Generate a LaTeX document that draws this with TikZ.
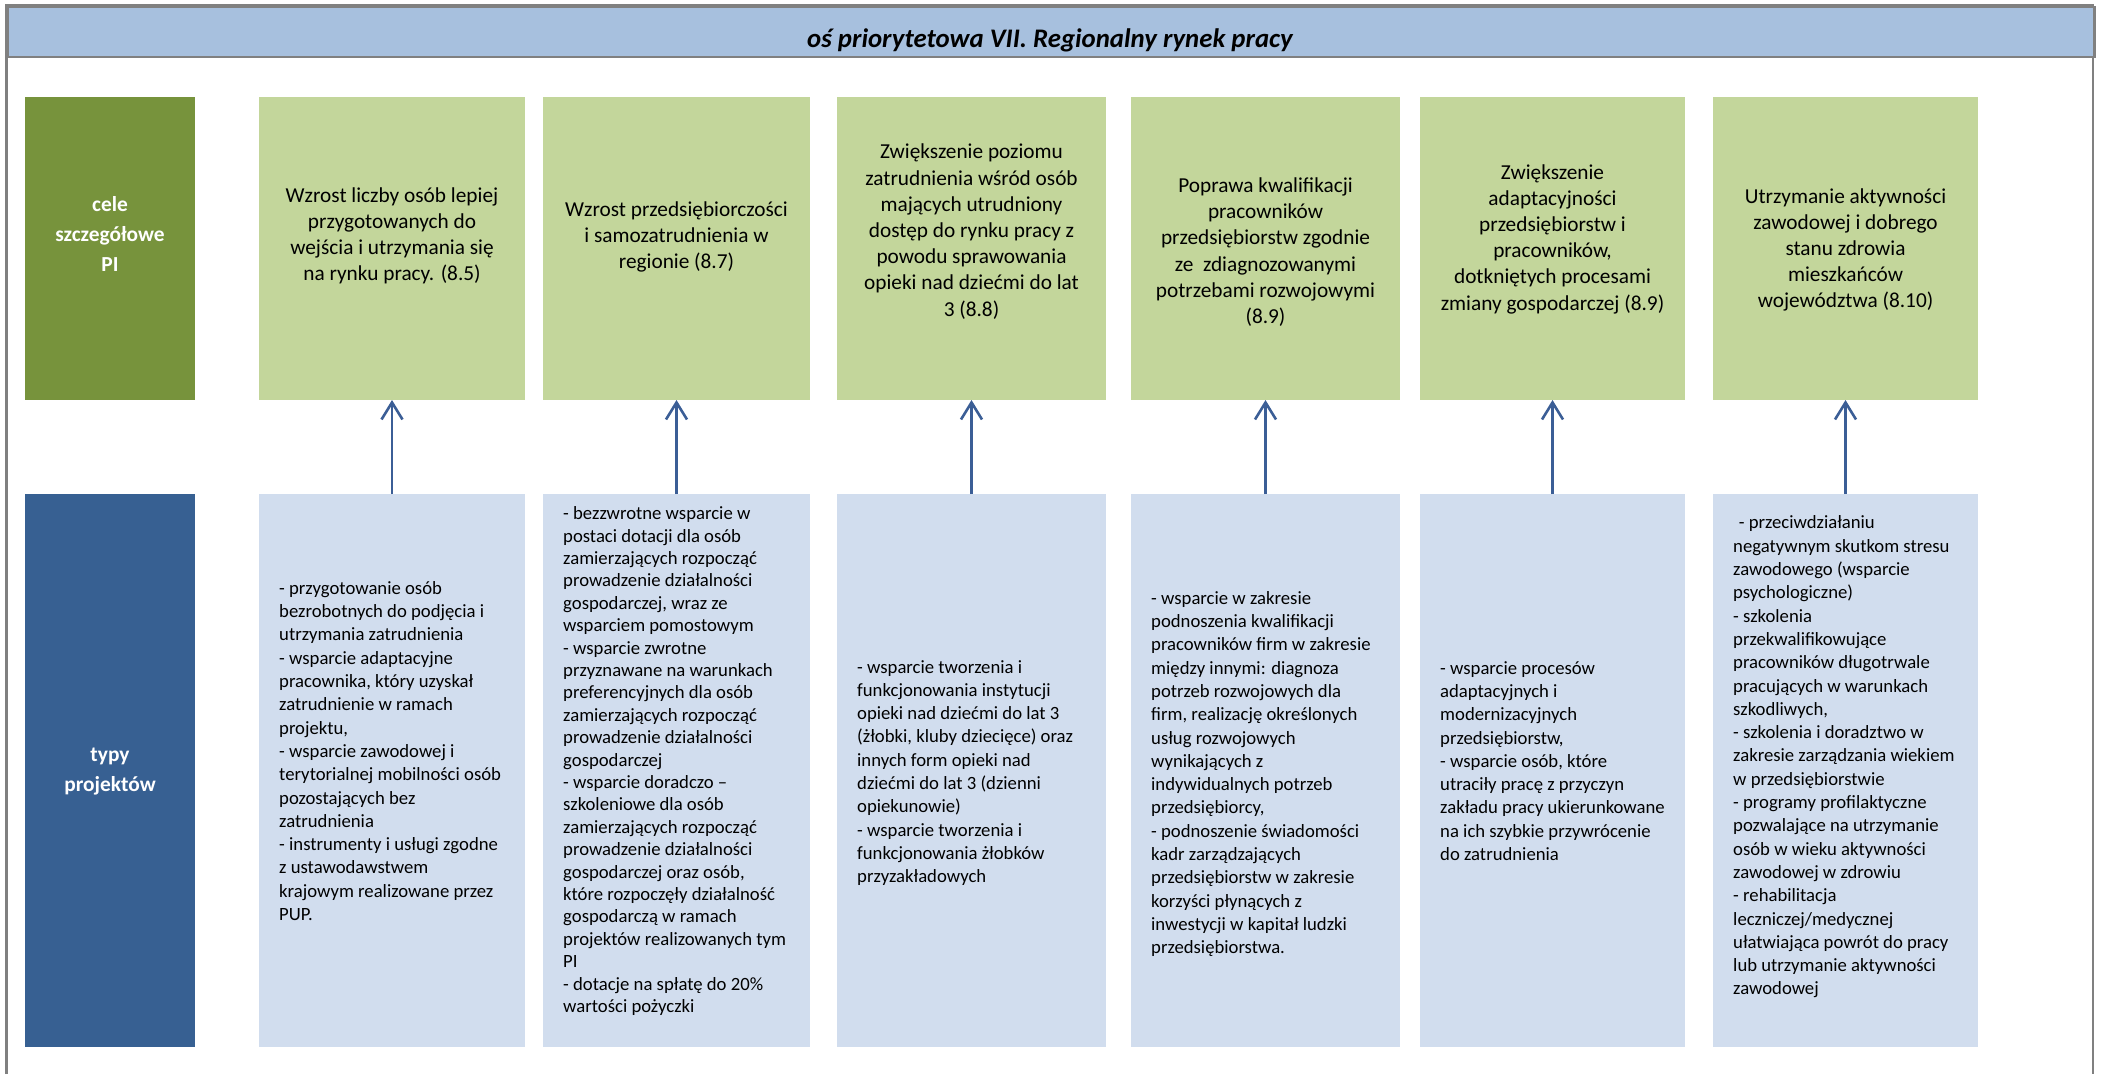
\documentclass[tikz,border=0pt]{standalone}
\usepackage{fontspec}
\setmainfont{Carlito}
\usetikzlibrary{arrows.meta}
\definecolor{hdrfill}{HTML}{A7C0DE}
\definecolor{frmgray}{HTML}{808080}
\definecolor{olivebox}{HTML}{77933C}
\definecolor{navybox}{HTML}{376092}
\definecolor{lgreen}{HTML}{C3D69B}
\definecolor{lblue}{HTML}{D1DDEE}
\definecolor{arrblue}{HTML}{3B5E96}
\begin{document}
\begin{tikzpicture}[x=1pt,y=-1pt,
  goal/.style={fill=lgreen, draw=none, inner sep=0, outer sep=0, minimum height=303pt, anchor=north west},
  proj/.style={fill=lblue, draw=none, inner sep=0, outer sep=0, minimum height=553pt, anchor=north west},
  sidebox/.style={draw=none, inner sep=0, outer sep=0, minimum width=170pt, anchor=north west},
  sidetext/.style={text=white, align=center, inner sep=0, font=\fontsize{21.4}{30}\selectfont\bfseries},
  gtext/.style={align=center, inner sep=0, font=\fontsize{21.3}{26.2}\selectfont},
  btext/.style={align=left, anchor=west, inner sep=0, font=\fontsize{18.7}{23.3}\selectfont},
  uparrow/.style={draw=arrblue, line width=2.4pt, -{Straight Barb[length=17pt,width=21pt,line width=2.6pt]}}
]
\useasboundingbox (0,0) rectangle (2103,1074);
% frame and header
\draw[frmgray, line width=2.5pt] (6.7,1074) -- (6.7,5.7) -- (2093,5.7) -- (2093,1074);
\node[fill=hdrfill, draw=frmgray, line width=2.5pt, inner sep=0, minimum width=2086.3pt, minimum height=50pt, anchor=north west] (header) at (6.7,5.7) {};
\node[inner sep=0, font=\fontsize{26.8}{30}\selectfont\bfseries\itshape] (title) at (1050,40.5) {oś priorytetowa VII. Regionalny rynek pracy};

% side labels
\node[sidebox, fill=olivebox, minimum height=303pt] (cele) at (25,97) {};
\node[sidetext] (celet) at (110,234) {cele\\szczegółowe\\PI};
\node[sidebox, fill=navybox, minimum height=553pt] (typy) at (25,494) {};
\node[sidetext] (typyt) at (110,771.5) {typy\\projektów};

% goal boxes
\node[goal, minimum width=266pt] (g1) at (259,97) {};
\node[goal, minimum width=267pt] (g2) at (543,97) {};
\node[goal, minimum width=269pt] (g3) at (837,97) {};
\node[goal, minimum width=269pt] (g4) at (1131,97) {};
\node[goal, minimum width=265pt] (g5) at (1420,97) {};
\node[goal, minimum width=265pt] (g6) at (1713,97) {};

\node[gtext] (g1t) at (392,236) {Wzrost liczby osób lepiej\\przygotowanych do\\wejścia i utrzymania się\\na rynku pracy. (8.5)};
\node[gtext] (g2t) at (676.5,237) {Wzrost przedsiębiorczości\\i samozatrudnienia w\\regionie (8.7)};
\node[gtext] (g3t) at (971.5,231.5) {Zwiększenie poziomu\\zatrudnienia wśród osób\\mających utrudniony\\dostęp do rynku pracy z\\powodu sprawowania\\opieki nad dziećmi do lat\\3 (8.8)};
\node[gtext] (g4t) at (1265.5,252) {Poprawa kwalifikacji\\pracowników\\przedsiębiorstw zgodnie\\ze\ \ zdiagnozowanymi\\potrzebami rozwojowymi\\(8.9)};
\node[gtext] (g5t) at (1552.5,239) {Zwiększenie\\adaptacyjności\\przedsiębiorstw i\\pracowników,\\dotkniętych procesami\\zmiany gospodarczej (8.9)};
\node[gtext] (g6t) at (1845.5,250) {Utrzymanie aktywności\\zawodowej i dobrego\\stanu zdrowia\\mieszkańców\\województwa (8.10)};

% project boxes
\node[proj, minimum width=266pt] (b1) at (259,494) {};
\node[proj, minimum width=267pt] (b2) at (543,494) {};
\node[proj, minimum width=269pt] (b3) at (837,494) {};
\node[proj, minimum width=269pt] (b4) at (1131,494) {};
\node[proj, minimum width=265pt] (b5) at (1420,494) {};
\node[proj, minimum width=265pt] (b6) at (1713,494) {};

\node[btext] (b1t) at (279,751) {- przygotowanie osób\\bezrobotnych do podjęcia i\\utrzymania zatrudnienia\\- wsparcie adaptacyjne\\pracownika, który uzyskał\\zatrudnienie w ramach\\projektu,\\- wsparcie zawodowej i\\terytorialnej mobilności osób\\pozostających bez\\zatrudnienia\\- instrumenty i usługi zgodne\\z ustawodawstwem\\krajowym realizowane przez\\PUP.};
\node[btext, font=\fontsize{18.7}{22.4}\selectfont] (b2t) at (563,761) {- bezzwrotne wsparcie w\\postaci dotacji dla osób\\zamierzających rozpocząć\\prowadzenie działalności\\gospodarczej, wraz ze\\wsparciem pomostowym\\- wsparcie zwrotne\\przyznawane na warunkach\\preferencyjnych dla osób\\zamierzających rozpocząć\\prowadzenie działalności\\gospodarczej\\- wsparcie doradczo –\\szkoleniowe dla osób\\zamierzających rozpocząć\\prowadzenie działalności\\gospodarczej oraz osób,\\które rozpoczęły działalność\\gospodarczą w ramach\\projektów realizowanych tym\\PI\\- dotacje na spłatę do 20\%\\wartości pożyczki};
\node[btext] (b3t) at (857,773) {- wsparcie tworzenia i\\funkcjonowania instytucji\\opieki nad dziećmi do lat 3\\(żłobki, kluby dziecięce) oraz\\innych form opieki nad\\dziećmi do lat 3 (dzienni\\opiekunowie)\\- wsparcie tworzenia i\\funkcjonowania żłobków\\przyzakładowych};
\node[btext] (b4t) at (1151,774) {- wsparcie w zakresie\\podnoszenia kwalifikacji\\pracowników firm w zakresie\\między innymi: diagnoza\\potrzeb rozwojowych dla\\firm, realizację określonych\\usług rozwojowych\\wynikających z\\indywidualnych potrzeb\\przedsiębiorcy,\\- podnoszenie świadomości\\kadr zarządzających\\przedsiębiorstw w zakresie\\korzyści płynących z\\inwestycji w kapitał ludzki\\przedsiębiorstwa.};
\node[btext] (b5t) at (1440,761) {- wsparcie procesów\\adaptacyjnych i\\modernizacyjnych\\przedsiębiorstw,\\- wsparcie osób, które\\utraciły pracę z przyczyn\\zakładu pracy ukierunkowane\\na ich szybkie przywrócenie\\do zatrudnienia};
\node[btext] (b6t) at (1733,757) {\hspace*{0.3em}- przeciwdziałaniu\\negatywnym skutkom stresu\\zawodowego (wsparcie\\psychologiczne)\\- szkolenia\\przekwalifikowujące\\pracowników długotrwale\\pracujących w warunkach\\szkodliwych,\\- szkolenia i doradztwo w\\zakresie zarządzania wiekiem\\w przedsiębiorstwie\\- programy profilaktyczne\\pozwalające na utrzymanie\\osób w wieku aktywności\\zawodowej w zdrowiu\\- rehabilitacja\\leczniczej/medycznej\\ułatwiająca powrót do pracy\\lub utrzymanie aktywności\\zawodowej};

% arrows
\foreach \i in {1,...,6} {
  \draw[uparrow] (b\i.north) -- (g\i.south);
}
\end{tikzpicture}
\end{document}
